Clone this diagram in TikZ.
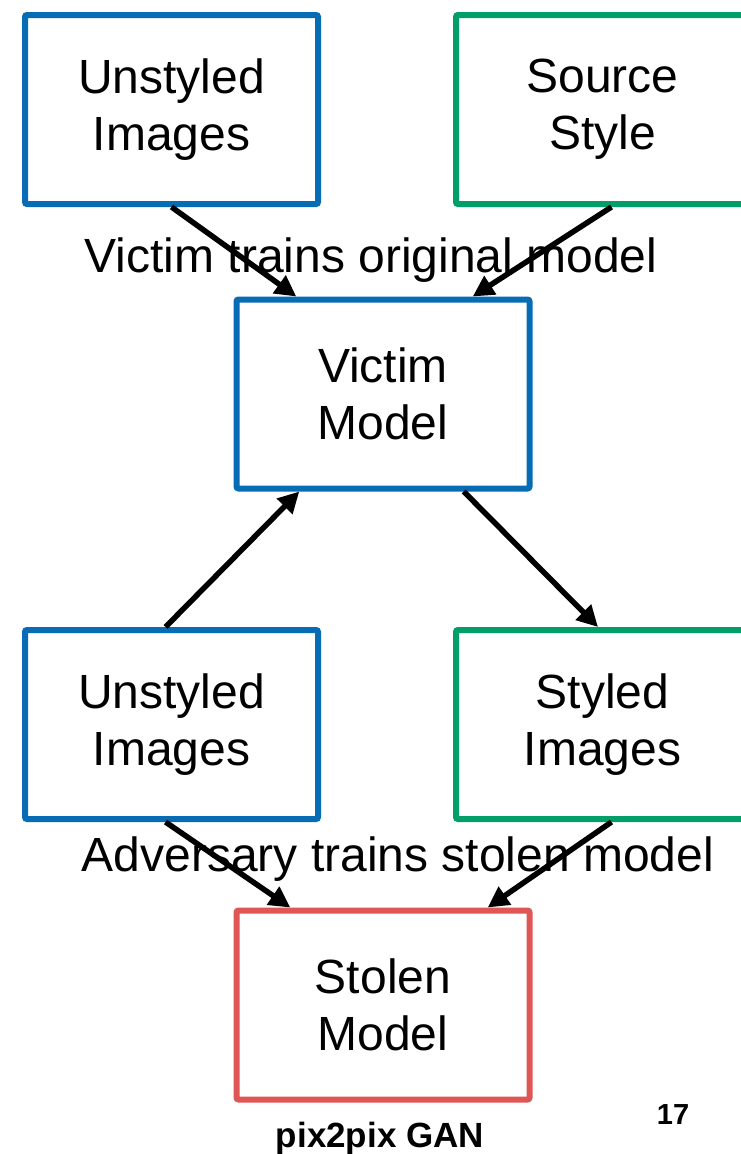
\documentclass[tikz,border=0pt]{standalone}
\usepackage{fontspec}
\setmainfont{Liberation Sans}
\usetikzlibrary{arrows.meta,calc}
\definecolor{boxblue}{RGB}{8,108,180}
\definecolor{boxgreen}{RGB}{0,158,104}
\definecolor{boxred}{RGB}{222,86,86}
\tikzset{
  stage/.style={draw, line width=6pt, rounded corners=2pt, minimum width=293pt, minimum height=189pt,
    inner sep=0pt, align=center, font=\fontsize{48}{57}\selectfont},
  caption/.style={anchor=base, inner sep=0pt, font=\fontsize{48}{57}\selectfont},
  flow/.style={line width=5.5pt, -{Triangle[length=21pt,width=21pt]}},
}
\begin{document}
\begin{tikzpicture}[x=1pt,y=-1pt]
\useasboundingbox (0,0) rectangle (741,1154);
\clip (0,0) rectangle (741,1154);
\fill[white] (0,0) rectangle (741,1154);

% training of the original model
\node[stage, draw=boxblue]  (ui) at (171.5,109.5) {Unstyled\\Images};
\node[stage, draw=boxgreen] (ss) at (602.5,109.5) {Source\\Style};
\node[caption] (vcap) at (371,272) {Victim trains original model};
\node[stage, draw=boxblue]  (vm) at (383,394) {Victim\\Model};

% querying the victim and training the copy
\node[stage, draw=boxblue]  (ua) at (171.5,724.5) {Unstyled\\Images};
\node[stage, draw=boxgreen] (si) at (602.5,724.5) {Styled\\Images};
\node[caption] (acap) at (398,871) {Adversary trains stolen model};
\node[stage, draw=boxred]   (sm) at (383,1005) {Stolen\\Model};

\node[anchor=base, inner sep=0pt, font=\fontsize{35}{40}\selectfont\bfseries] (gan) at (380,1147) {pix2pix GAN};
\node[anchor=base, inner sep=0pt, font=\fontsize{29}{34}\selectfont\bfseries] (pg) at (673,1124) {17};

% connectors
\draw[flow] ($(ui.south west)!0.5!(ui.south east)$) -- ($(vm.north west)!0.21!(vm.north east)$);
\draw[flow] ($(ss.south west)!0.53!(ss.south east)$) -- ($(vm.north west)!0.80!(vm.north east)$);
\draw[flow] ($(ua.north west)!0.48!(ua.north east)$) -- ($(vm.south west)!0.22!(vm.south east)$);
\draw[flow] ($(vm.south west)!0.77!(vm.south east)$) -- ($(si.north west)!0.485!(si.north east)$);
\draw[flow] ($(ua.south west)!0.48!(ua.south east)$) -- ($(sm.north west)!0.19!(sm.north east)$);
\draw[flow] ($(si.south west)!0.53!(si.south east)$) -- ($(sm.north west)!0.85!(sm.north east)$);
\end{tikzpicture}
\end{document}
